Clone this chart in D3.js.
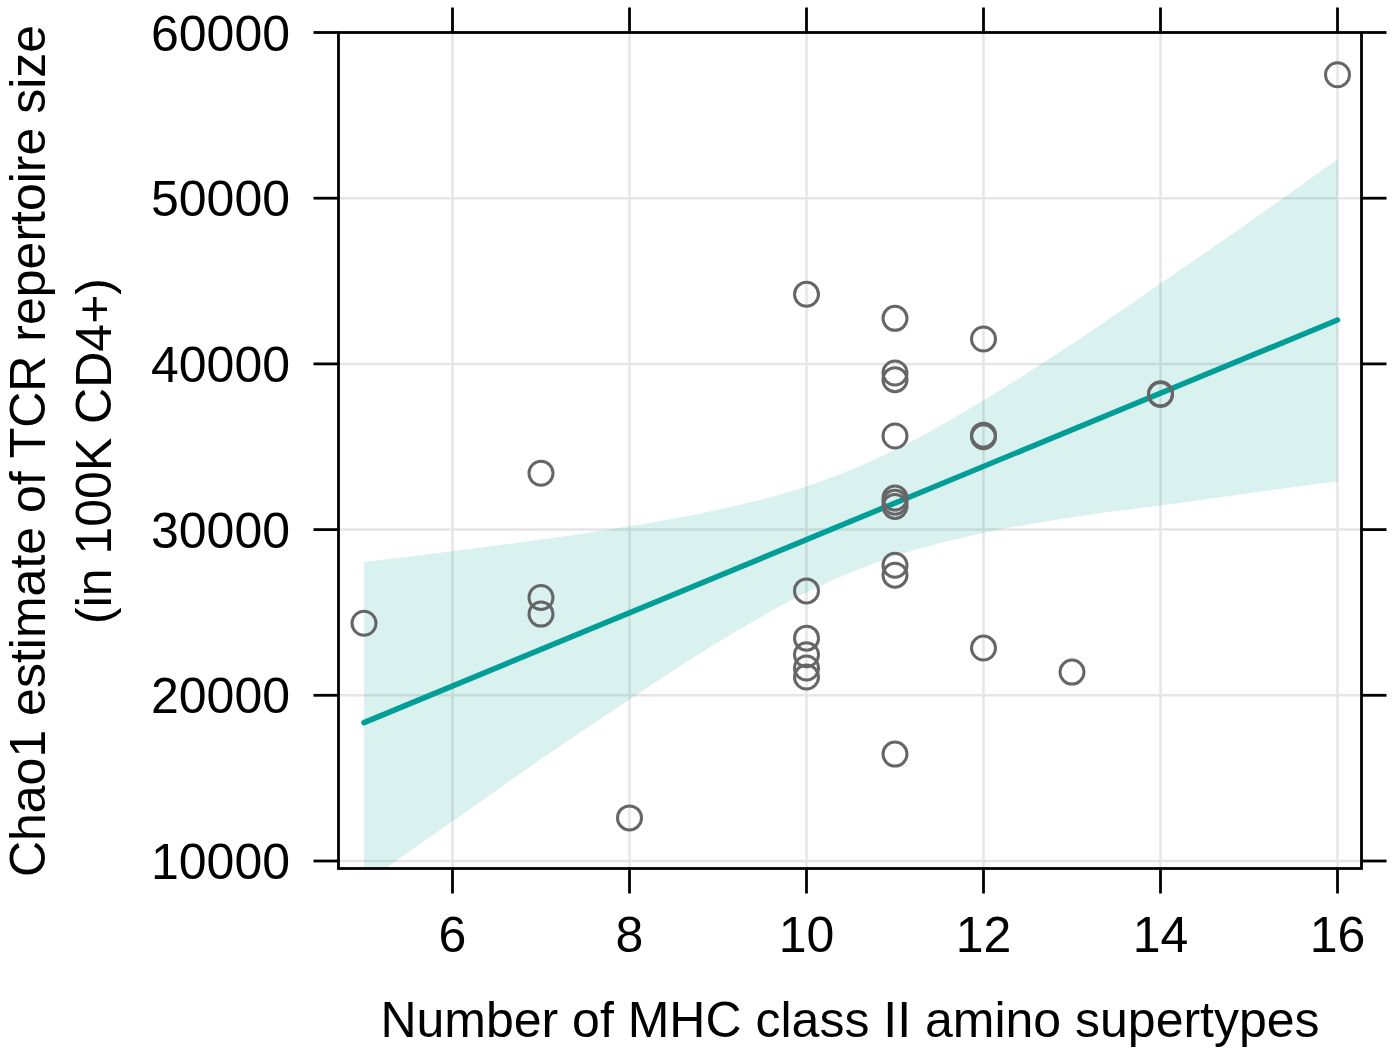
<!DOCTYPE html>
<html>
<head>
<meta charset="utf-8">
<script src="https://cdn.jsdelivr.net/npm/d3@7"></script>
<style>
  body { margin: 0; background: #fff; }
  svg text { font-family: "Liberation Sans", Arial, sans-serif; fill: #000; }
</style>
</head>
<body>
<div id="chart"></div>
<script>
// observed points (supertypes, Chao1 estimate)
var supertypes = [5, 7, 7, 7, 8,
  10, 10, 10, 10, 10, 10,
  11, 11, 11, 11, 11, 11, 11, 11, 11, 11,
  12, 12, 12, 12, 13, 14, 14, 16];
var chao1 = [24350, 33400, 25900, 24900, 12600,
  44200, 26300, 23450, 22450, 21650, 21100,
  42750, 39450, 39050, 35650, 31900, 31650, 31400, 27850, 27250, 16450,
  41500, 35700, 35600, 22850, 21400, 38200, 38150, 57450];

// fitted line and its confidence band
var fitX = [5, 16];
var fitY = [18350, 42650];
var bandX = [5, 6, 7, 8, 9, 10, 11, 12, 13, 14, 15, 16];
var bandLower = [8650, 12400, 16150, 19750, 23200, 26200, 28400, 29800, 30750, 31450, 32200, 32900];
var bandUpper = [28050, 28700, 29400, 30200, 31200, 32600, 34800, 37800, 41200, 44850, 48550, 52350];

var xTicks = [6, 8, 10, 12, 14, 16];
var yTicks = [10000, 20000, 30000, 40000, 50000, 60000];

var W = 1396, H = 1056;
var pLeft = 338.5, pRight = 1361.5, pTop = 32.5, pBottom = 868.5;
var tickLen = 25;
var fs = 50;

var svg = d3.select('#chart').append('svg')
  .attr('width', W)
  .attr('height', H);

var x = d3.scaleLinear().domain([6, 16]).range([452.5, 1337.5]);
var y = d3.scaleLinear().domain([10000, 60000]).range([861, 32.5]);

svg.append('clipPath').attr('id', 'panel')
  .append('rect')
  .attr('x', pLeft).attr('y', pTop)
  .attr('width', pRight - pLeft).attr('height', pBottom - pTop);

// grid
svg.append('g').selectAll('line').data(xTicks).join('line')
  .attr('x1', d => x(d)).attr('x2', d => x(d))
  .attr('y1', pTop).attr('y2', pBottom)
  .attr('stroke', '#e6e6e6').attr('stroke-width', 2.5);
svg.append('g').selectAll('line').data(yTicks).join('line')
  .attr('x1', pLeft).attr('x2', pRight)
  .attr('y1', d => y(d)).attr('y2', d => y(d))
  .attr('stroke', '#e6e6e6').attr('stroke-width', 2.5);

// confidence band
var bandData = bandX.map((d, i) => [d, bandLower[i], bandUpper[i]]);
var area = d3.area()
  .x(d => x(d[0]))
  .y0(d => y(d[1]))
  .y1(d => y(d[2]))
  .curve(d3.curveMonotoneX);
svg.append('path')
  .datum(bandData)
  .attr('clip-path', 'url(#panel)')
  .attr('d', area)
  .attr('fill', '#009e96')
  .attr('fill-opacity', 0.15);

// regression line
svg.append('path')
  .datum(fitX.map((d, i) => [d, fitY[i]]))
  .attr('d', d3.line().x(d => x(d[0])).y(d => y(d[1])))
  .attr('fill', 'none')
  .attr('stroke', '#009e96')
  .attr('stroke-width', 5.5)
  .attr('stroke-linecap', 'round');

// points
svg.append('g').selectAll('circle').data(supertypes).join('circle')
  .attr('cx', d => x(d))
  .attr('cy', (d, i) => y(chao1[i]))
  .attr('r', 12)
  .attr('fill', 'none')
  .attr('stroke', '#666666')
  .attr('stroke-width', 3);

// box
svg.append('rect')
  .attr('x', pLeft).attr('y', pTop)
  .attr('width', pRight - pLeft).attr('height', pBottom - pTop)
  .attr('fill', 'none').attr('stroke', '#000').attr('stroke-width', 2.8);

// ticks on all four sides
var tk = svg.append('g').attr('stroke', '#000').attr('stroke-width', 2.8);
tk.selectAll('.tb').data(xTicks).join('line').attr('class', 'tb')
  .attr('x1', d => x(d)).attr('x2', d => x(d))
  .attr('y1', pBottom).attr('y2', pBottom + tickLen);
tk.selectAll('.tt').data(xTicks).join('line').attr('class', 'tt')
  .attr('x1', d => x(d)).attr('x2', d => x(d))
  .attr('y1', pTop).attr('y2', pTop - tickLen);
tk.selectAll('.tl').data(yTicks).join('line').attr('class', 'tl')
  .attr('x1', pLeft - tickLen).attr('x2', pLeft)
  .attr('y1', d => y(d)).attr('y2', d => y(d));
tk.selectAll('.tr').data(yTicks).join('line').attr('class', 'tr')
  .attr('x1', pRight).attr('x2', pRight + tickLen)
  .attr('y1', d => y(d)).attr('y2', d => y(d));

// tick labels
svg.append('g').selectAll('text').data(xTicks).join('text')
  .attr('x', d => x(d)).attr('y', 952)
  .attr('text-anchor', 'middle')
  .attr('font-size', fs)
  .text(d => d);
svg.append('g').selectAll('text').data(yTicks).join('text')
  .attr('x', 290).attr('y', d => y(d))
  .attr('dy', '0.36em')
  .attr('text-anchor', 'end')
  .attr('font-size', fs)
  .text(d => d);

// axis titles
svg.append('text')
  .attr('x', 850).attr('y', 1037)
  .attr('text-anchor', 'middle')
  .attr('font-size', fs)
  .text('Number of MHC class II amino supertypes');

var yt = svg.append('text')
  .attr('transform', 'translate(0,451) rotate(-90)')
  .attr('text-anchor', 'middle')
  .attr('font-size', fs);
yt.append('tspan').attr('x', 0).attr('y', 45).text('Chao1 estimate of TCR repertoire size');
yt.append('tspan').attr('x', 0).attr('y', 111).text('(in 100K CD4+)');
</script>
</body>
</html>
